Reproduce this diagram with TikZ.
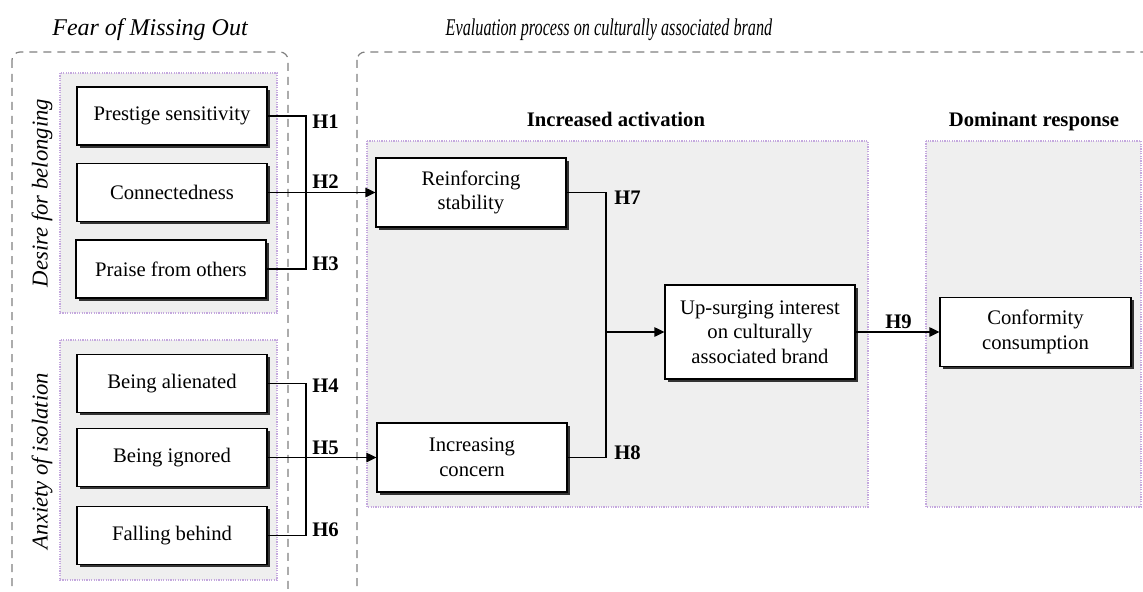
\documentclass[tikz,border=0pt]{standalone}
\usepackage{fontspec}
\setmainfont{Liberation Serif}
\usetikzlibrary{arrows.meta,shadows}

\definecolor{panelgray}{RGB}{239,239,239}
\definecolor{dotlilac}{RGB}{196,168,222}
\definecolor{dashgray}{RGB}{128,128,128}

\begin{document}
\begin{tikzpicture}[x=0.75pt,y=0.75pt,yscale=-1,xscale=1,
  outerbox/.style={draw=dashgray,dash pattern=on 6pt off 4.5pt,line width=0.9pt,rounded corners=6pt},
  panel/.style={draw=dotlilac,fill=panelgray,dash pattern=on 0.9pt off 0.9pt,line width=1pt},
  item/.style={draw,fill=white,line width=0.9pt,minimum width=142.5pt,minimum height=43.5pt,
    align=center,inner sep=2pt,font=\fontsize{15.5}{18.5}\selectfont,
    drop shadow={shadow xshift=2.2pt,shadow yshift=-2.2pt,fill=black!80,opacity=1}},
  hyp/.style={font=\fontsize{15.5}{18}\selectfont\bfseries,inner sep=0pt,anchor=west},
  grouptitle/.style={font=\fontsize{18}{20}\selectfont\itshape,inner sep=0pt,anchor=base},
  stagetitle/.style={font=\fontsize{15.5}{18}\selectfont\bfseries,inner sep=0pt,anchor=base},
  sidetitle/.style={font=\fontsize{17}{20}\selectfont\itshape,inner sep=0pt,rotate=90},
  link/.style={line width=1.3pt},
  push/.style={link,-{Triangle[length=7.5pt,width=7pt]}}]
\useasboundingbox (0,0) rectangle (1143,592);

% outer dashed frames (run off the page)
\draw[outerbox] (12,52) rectangle (288,610);
\draw[outerbox] (357,52) rectangle (1170,610);

% shaded panels
\draw[panel] (60,73) rectangle (277,313);
\draw[panel] (60,340) rectangle (277,580);
\draw[panel] (367,141) rectangle (868,507);
\draw[panel] (926,141) rectangle (1141,507);

% titles
\node[grouptitle] (fomo) at (150,36) {Fear of Missing Out};
\node[grouptitle] (evalproc) at (609,36) {\scalebox{0.675}[1]{Evaluation process on culturally associated brand}};
\node[stagetitle] (actv) at (616,127) {Increased activation};
\node[stagetitle] (domresp) at (1034,127) {Dominant response};
\node[sidetitle] (belong) at (42,193) {Desire for belonging};
\node[sidetitle] (isol) at (42,461) {Anxiety of isolation};

% antecedents
\node[item] (prestige) at (172,116) {Prestige sensitivity};
\node[item] (connect) at (172,192.5) {Connectedness};
\node[item] (praise) at (171,269) {Praise from others};
\node[item] (alien) at (172,383.5) {Being alienated};
\node[item] (ignored) at (172,457.5) {Being ignored};
\node[item] (behind) at (172,535.5) {Falling behind};

% mediators and outcomes
\node[item,minimum height=51.75pt] (stability) at (471,192.5) {Reinforcing\\stability};
\node[item,minimum height=51.75pt] (concern) at (472,457.5) {Increasing\\concern};
\node[item,minimum height=70.5pt] (surging) at (760,332) {Up-surging interest\\on culturally\\associated brand};
\node[item,minimum width=143.25pt,minimum height=51.75pt] (conform) at (1035.5,332) {Conformity\\consumption};

% junctions
\coordinate (jbelong) at (306,192.5);
\coordinate (jisol) at (306,457.5);
\coordinate (jactv) at (606,332);

% connectors
\draw[link] (prestige.east) -| (jbelong);
\draw[link] (praise.east) -| (jbelong);
\draw[push] (connect.east) -- (stability.west);
\draw[link] (alien.east) -| (jisol);
\draw[link] (behind.east) -| (jisol);
\draw[push] (ignored.east) -- (concern.west);
\draw[link] (stability.east) -| (jactv);
\draw[link] (concern.east) -| (jactv);
\draw[push] (jactv) -- (surging.west);
\draw[push] (surging.east) -- (conform.west);

% hypotheses
\node[hyp] (h1) at (312,122) {H1};
\node[hyp] (h2) at (312,182) {H2};
\node[hyp] (h3) at (312,264) {H3};
\node[hyp] (h4) at (312,386) {H4};
\node[hyp] (h5) at (312,448) {H5};
\node[hyp] (h6) at (312,530) {H6};
\node[hyp] (h7) at (614,198) {H7};
\node[hyp] (h8) at (614,453) {H8};
\node[hyp] (h9) at (885,322) {H9};

\end{tikzpicture}
\end{document}
